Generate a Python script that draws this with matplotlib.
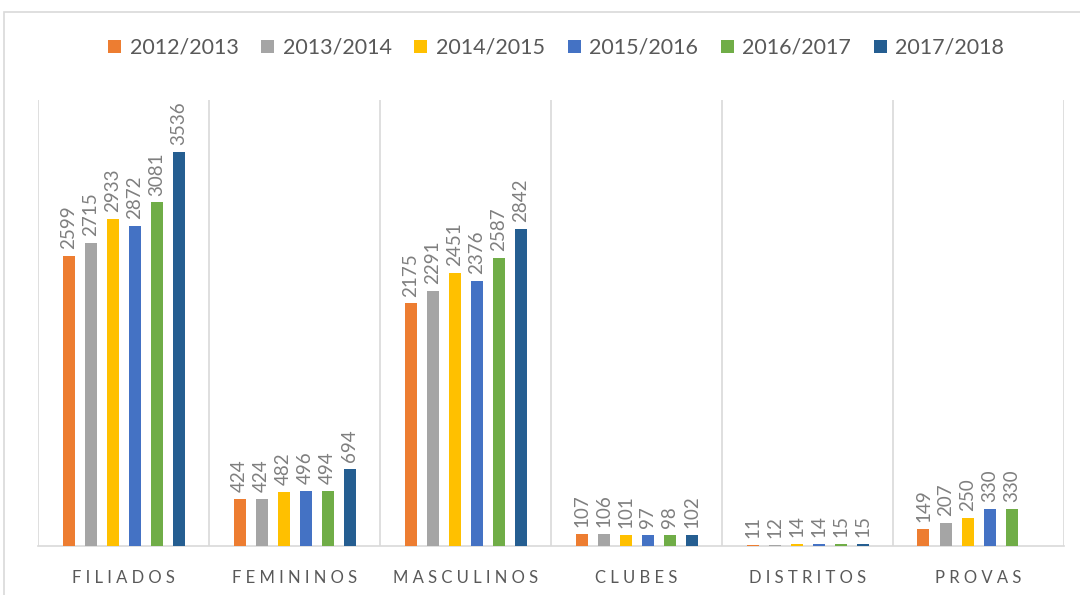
import numpy as np
import matplotlib
matplotlib.use('Agg')
from matplotlib import pyplot as plt
from matplotlib.patches import Rectangle

plt.rcParams['font.family'] = ['Lato', 'DejaVu Sans']

categories = ['FILIADOS', 'FEMININOS', 'MASCULINOS', 'CLUBES', 'DISTRITOS', 'PROVAS']
seasons = ['2012/2013', '2013/2014', '2014/2015', '2015/2016', '2016/2017', '2017/2018']
v_2012 = [2599, 424, 2175, 107, 11, 149]
v_2013 = [2715, 424, 2291, 106, 12, 207]
v_2014 = [2933, 482, 2451, 101, 14, 250]
v_2015 = [2872, 496, 2376, 97, 14, 330]
v_2016 = [3081, 494, 2587, 98, 15, 330]
v_2017 = [3536, 694, 2842, 102, 15, np.nan]
series = [v_2012, v_2013, v_2014, v_2015, v_2016, v_2017]
colors = ['#ED7D31', '#A5A5A5', '#FFC000', '#4472C4', '#70AD47', '#255E91']

fig = plt.figure(figsize=(10.8, 5.95), dpi=100)
# outer chart border
fig.patches.append(Rectangle((4/1080, -0.01), 1.0, 1 - 12/595 + 0.01,
                             transform=fig.transFigure, fill=False,
                             edgecolor='#d9d9d9', lw=1.2))

ax = fig.add_axes([38/1080, 1 - 546/595, (1064 - 38)/1080, (546 - 100)/595])

x = np.arange(len(categories))
step = 22/171
width = 12/171
for i, (vals, c, lab) in enumerate(zip(series, colors, seasons)):
    pos = x + (i - 2.5) * step
    bars = ax.bar(pos, vals, width=width, color=c, label=lab, zorder=3)
    for p, v in zip(pos, vals):
        if np.isnan(v):
            continue
        ax.annotate(str(int(v)), (p, v), xytext=(0, 5), textcoords='offset points',
                    rotation=90, ha='center', va='bottom', color='#7f7f7f',
                    fontsize=13.5)

ax.set_xlim(-0.5, len(categories) - 0.5)
ax.set_ylim(0, 4000)
ax.set_yticks([])
for b in np.arange(-0.5, len(categories) + 0.5):
    ax.axvline(b, color='#d9d9d9', lw=1.2, zorder=1)
for s in ['top', 'left', 'right']:
    ax.spines[s].set_visible(False)
ax.spines['bottom'].set_color('#d9d9d9')
ax.spines['bottom'].set_linewidth(1.2)
ax.set_xticks(x)
ax.set_xticklabels([' '.join(c) for c in categories], fontsize=12, color='#595959')
ax.tick_params(axis='x', length=0, pad=17)

fig.legend(loc='center', bbox_to_anchor=(0.515, 1 - 48/595), ncol=6, frameon=False,
           fontsize=15.5, handlelength=0.6, handleheight=0.6, handletextpad=0.4,
           columnspacing=1.05, labelcolor='#595959')

fig.savefig('out.png', dpi=100)
